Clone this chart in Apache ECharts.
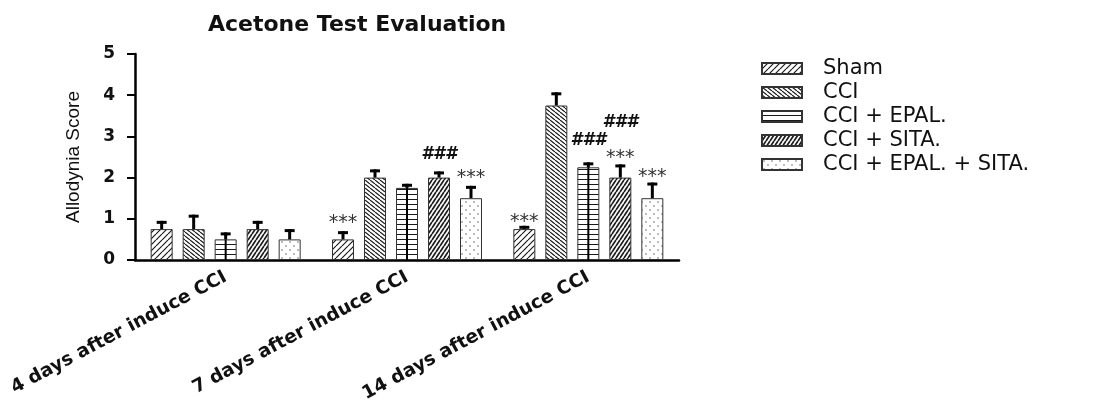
<!DOCTYPE html>
<html>
<head>
<meta charset="utf-8">
<script src="https://cdn.jsdelivr.net/npm/echarts@6/dist/echarts.min.js"></script>
<style>
  html, body { margin: 0; padding: 0; background: #fff; }
  #chart { width: 1108px; height: 403px; }
</style>
</head>
<body>
<div id="chart"></div>
<script>
// Time points after chronic constriction injury
const categories = ['4 days after induce CCI', '7 days after induce CCI', '14 days after induce CCI'];
const groupNames = ['Sham', 'CCI', 'CCI + EPAL.', 'CCI + SITA.', 'CCI + EPAL. + SITA.'];

// Mean allodynia score and SEM per group, one value per time point
const shamMean = [0.75, 0.5, 0.75];
const shamSem = [0.2, 0.2, 0.08];
const cciMean = [0.75, 2.0, 3.75];
const cciSem = [0.35, 0.2, 0.32];
const epalMean = [0.5, 1.75, 2.25];
const epalSem = [0.17, 0.1, 0.12];
const sitaMean = [0.75, 2.0, 2.0];
const sitaSem = [0.2, 0.15, 0.32];
const comboMean = [0.5, 1.5, 1.5];
const comboSem = [0.25, 0.3, 0.38];

// Significance marks: time point, group, height on the score axis, text
const markCats = [1, 1, 1, 2, 2, 2, 2, 2];
const markGroups = [0, 3, 4, 0, 2, 3, 3, 4];
const markLevels = [1.03, 2.55, 2.11, 1.04, 2.91, 2.6, 3.33, 2.14];
const markTexts = ['***', '###', '***', '***', '###', '***', '###', '***'];

// Score axis
const yMin = 0, yMax = 5, yStep = 1;

const means = [shamMean, cciMean, epalMean, sitaMean, comboMean];
const sems = [shamSem, cciSem, epalSem, sitaSem, comboSem];

const BAR_W = 22;
const BAR_GAP = 10;
const STEP = BAR_W + BAR_GAP;
const CENTER = (groupNames.length - 1) / 2;

// Hatch fills drawn into small repeating tiles
function tile(w, h, draw) {
  const c = document.createElement('canvas');
  c.width = w; c.height = h;
  const ctx = c.getContext('2d');
  ctx.fillStyle = '#fff';
  ctx.fillRect(0, 0, w, h);
  ctx.strokeStyle = '#1a1a1a';
  ctx.fillStyle = '#1a1a1a';
  draw(ctx, w, h);
  return { image: c, repeat: 'repeat' };
}
function diag(ctx, w, h, up, lw) {
  ctx.lineWidth = lw;
  ctx.beginPath();
  for (let k = -1; k <= 1; k++) {
    if (up) { ctx.moveTo(k * w, h); ctx.lineTo(k * w + w, 0); }
    else { ctx.moveTo(k * w, 0); ctx.lineTo(k * w + w, h); }
  }
  ctx.stroke();
}
const fills = [
  tile(6, 6, (ctx, w, h) => diag(ctx, w, h, true, 1.2)),
  tile(5, 4, (ctx, w, h) => diag(ctx, w, h, false, 1.2)),
  tile(6, 5, (ctx, w, h) => { ctx.lineWidth = 1; ctx.beginPath(); ctx.moveTo(0, 4.5); ctx.lineTo(w, 4.5); ctx.stroke(); }),
  tile(4, 6, (ctx, w, h) => { diag(ctx, w, h, true, 1.7); }),
  tile(8, 8, (ctx) => {
    ctx.fillStyle = '#666';
    ctx.beginPath(); ctx.arc(2, 2, 0.8, 0, Math.PI * 2); ctx.fill();
    ctx.beginPath(); ctx.arc(6, 6, 0.8, 0, Math.PI * 2); ctx.fill();
  })
];

const barSeries = groupNames.map((name, i) => ({
  name: name,
  type: 'bar',
  data: means[i],
  barWidth: BAR_W,
  barGap: (BAR_GAP / BAR_W * 100) + '%',
  itemStyle: { color: fills[i], borderColor: '#333', borderWidth: 1 },
  emphasis: { disabled: true },
  z: 2
}));

// Error bar items: [time point, group, mean, mean + sem]
const errData = [];
for (let g = 0; g < groupNames.length; g++) {
  for (let c = 0; c < categories.length; c++) {
    errData.push([c, g, means[g][c], means[g][c] + sems[g][c]]);
  }
}

const errorSeries = {
  type: 'custom',
  name: 'sem',
  data: errData,
  encode: { x: 0, y: 3 },
  z: 5,
  silent: true,
  renderItem: function (params, api) {
    const c = api.value(0), g = api.value(1);
    const m = api.coord([c, api.value(2)]);
    const t = api.coord([c, api.value(3)]);
    const x = m[0] + (g - CENTER) * STEP;
    const kids = [
      { type: 'line', shape: { x1: x, y1: m[1], x2: x, y2: t[1] }, style: { stroke: '#000', lineWidth: 3 } },
      { type: 'line', shape: { x1: x - 5, y1: t[1] + 1.5, x2: x + 5, y2: t[1] + 1.5 }, style: { stroke: '#000', lineWidth: 3 } }
    ];
    if (g === 2) {
      const b = api.coord([c, 0]);
      kids.push({ type: 'line', shape: { x1: x, y1: b[1], x2: x, y2: m[1] }, style: { stroke: '#000', lineWidth: 2 } });
    }
    return { type: 'group', children: kids };
  }
};

const markData = markCats.map((c, i) => [c, markGroups[i], markLevels[i]]);
const markSeries = {
  type: 'custom',
  name: 'marks',
  data: markData,
  encode: { x: 0, y: 2 },
  z: 6,
  silent: true,
  renderItem: function (params, api) {
    const c = api.value(0), g = api.value(1);
    const p = api.coord([c, api.value(2)]);
    const txt = markTexts[params.dataIndex];
    const star = txt === '***';
    return {
      type: 'text',
      style: {
        x: p[0] + (g - CENTER) * STEP,
        y: p[1] + (star ? 5 : 0),
        text: txt,
        align: 'center',
        verticalAlign: 'middle',
        fill: star ? '#333' : '#111',
        font: star ? 'normal 19px "DejaVu Sans"' : 'italic bold 17px "DejaVu Sans"'
      }
    };
  }
};

const chart = echarts.init(document.getElementById('chart'), null, { renderer: 'canvas' });
chart.setOption({
  backgroundColor: '#fff',
  animation: false,
  title: {
    text: 'Acetone Test Evaluation',
    left: 203,
    top: 9,
    textStyle: { fontFamily: 'DejaVu Sans', fontWeight: 'bold', fontSize: 22, color: '#111' }
  },
  legend: {
    data: groupNames,
    orient: 'vertical',
    left: 761,
    top: 58,
    padding: 0,
    icon: 'rect',
    itemWidth: 40,
    itemHeight: 11,
    itemGap: 3,
    selectedMode: false,
    textStyle: { fontFamily: 'DejaVu Sans', fontSize: 21, lineHeight: 20, color: '#111', padding: [0, 0, 0, 16] }
  },
  grid: { left: 135, right: 429, top: 54, bottom: 143, outerBoundsMode: 'none' },
  xAxis: {
    type: 'category',
    data: categories,
    axisLine: { lineStyle: { color: '#000', width: 2.5 } },
    axisTick: { alignWithLabel: true, length: 8, lineStyle: { color: '#000', width: 2 } },
    axisLabel: {
      interval: 0,
      rotate: 28,
      margin: 16,
      fontFamily: 'DejaVu Sans',
      fontWeight: 'bold',
      fontSize: 18.5,
      color: '#111'
    }
  },
  yAxis: {
    type: 'value',
    min: yMin,
    max: yMax,
    interval: yStep,
    name: 'Allodynia Score',
    nameLocation: 'middle',
    nameGap: 52,
    nameTextStyle: { fontFamily: '"Liberation Sans", Arial, sans-serif', fontSize: 19, color: '#111' },
    splitLine: { show: false },
    axisLine: { show: true, lineStyle: { color: '#000', width: 2.5 } },
    axisTick: { show: true, length: 8, lineStyle: { color: '#000', width: 2 } },
    axisLabel: { margin: 20, fontFamily: 'DejaVu Sans', fontWeight: 'bold', fontSize: 17, color: '#111' }
  },
  series: barSeries.concat([errorSeries, markSeries])
});
</script>
</body>
</html>
